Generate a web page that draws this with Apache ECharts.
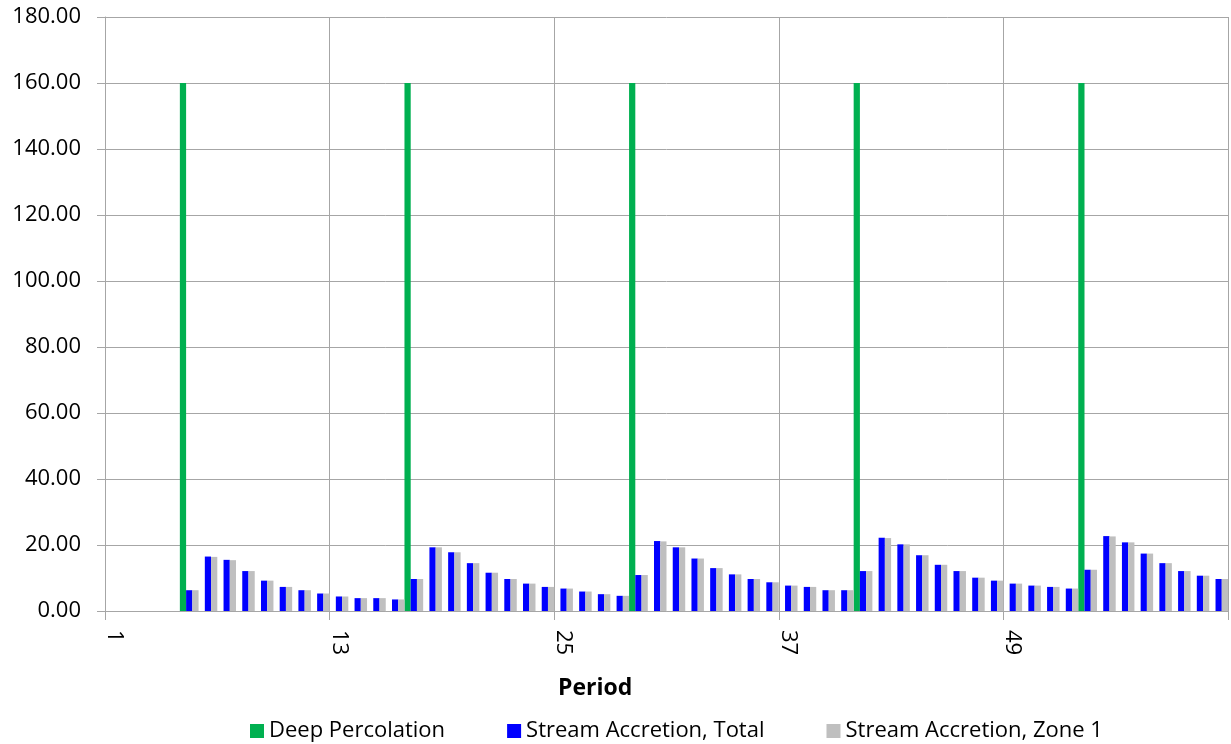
<!DOCTYPE html>
<html>
<head>
<meta charset="utf-8">
<script src="https://cdn.jsdelivr.net/npm/echarts@6/dist/echarts.min.js"></script>
<style>
html,body{margin:0;padding:0;background:#fff;}
#chart{width:1231px;height:744px;}
</style>
</head>
<body>
<div id="chart"></div>
<script>
const periods = ['1','2','3','4','5','6','7','8','9','10','11','12','13','14','15','16','17','18','19','20',
  '21','22','23','24','25','26','27','28','29','30','31','32','33','34','35','36','37','38','39','40',
  '41','42','43','44','45','46','47','48','49','50','51','52','53','54','55','56','57','58','59','60'];

const deepPercolation = [0,0,0,0,160,0,0,0,0,0,0,0,0,0,0,0,160,0,0,0,
  0,0,0,0,0,0,0,0,160,0,0,0,0,0,0,0,0,0,0,0,
  160,0,0,0,0,0,0,0,0,0,0,0,160,0,0,0,0,0,0,0];

const streamTotal = [0,0,0,0,6.3,16.5,15.5,12.1,9.2,7.3,6.3,5.3,4.4,3.9,3.9,3.5,9.7,19.3,17.8,14.5,
  11.6,9.7,8.3,7.3,6.8,5.9,5.1,4.6,10.9,21.2,19.3,15.9,13.0,11.1,9.7,8.7,7.7,7.3,6.3,6.3,
  12.1,22.2,20.2,16.9,14.0,12.1,10.1,9.2,8.3,7.7,7.3,6.8,12.5,22.7,20.8,17.4,14.5,12.1,10.7,9.7];

const streamZone1 = [0,0,0,0,6.3,16.4,15.4,12.1,9.2,7.3,6.3,5.3,4.4,3.9,3.9,3.5,9.7,19.3,17.8,14.5,
  11.6,9.7,8.3,7.3,6.8,5.9,5.1,4.6,10.9,21.1,19.3,15.9,13.0,11.1,9.7,8.7,7.7,7.3,6.3,6.3,
  12.1,22.1,20.2,16.9,14.0,12.1,10.1,9.2,8.3,7.7,7.3,6.8,12.5,22.6,20.8,17.4,14.5,12.1,10.7,9.7];

const seriesNames = ['Deep Percolation','Stream Accretion, Total','Stream Accretion, Zone 1'];
const seriesColors = ['#00B050','#0000FF','#BFBFBF'];
const axisTitle = 'Period';

const gridColor = '#A6A6A6';
const font = '"Open Sans", "Noto Sans", sans-serif';

const chart = echarts.init(document.getElementById('chart'), null, {renderer:'canvas'});
const option = {
  animation: false,
  backgroundColor: '#ffffff',
  grid: {left:105, right:3, top:17, bottom:133, containLabel:false},
  legend: {
    data: seriesNames,
    left: 245, top: 715,
    icon: 'rect', itemWidth: 14, itemHeight: 14, itemGap: 62,
    textStyle: {fontFamily: font, fontSize: 22, color:'#000', padding:[0,0,0,0]}
  },
  graphic: [{
    type:'text', left: 558, top: 677,
    style:{text: axisTitle, fontFamily: font, fontSize: 23, fontWeight:'bold', fill:'#000'}
  }],
  xAxis: {
    type: 'category',
    data: periods,
    boundaryGap: true,
    axisLine: {show:true, lineStyle:{color:gridColor, width:1}},
    axisTick: {show:true, interval:11, length:9, lineStyle:{color:gridColor}},
    axisLabel: {interval:11, rotate:-90, margin:19, fontFamily: font, fontSize:22, color:'#000'},
    splitLine: {show:true, interval:11, lineStyle:{color:gridColor, width:1}}
  },
  yAxis: {
    type: 'value', min:0, max:180, interval:20,
    axisLine: {show:true, lineStyle:{color:gridColor}},
    axisTick: {show:true, length:8, lineStyle:{color:gridColor}},
    axisLabel: {margin:24, fontFamily: font, fontSize:22, color:'#000', formatter: v => v.toFixed(2)},
    splitLine: {show:true, lineStyle:{color:gridColor, width:1}}
  },
  series: [
    {name: seriesNames[0], type:'bar', data: deepPercolation, itemStyle:{color:seriesColors[0]}, barGap:'0%', barCategoryGap:'0%'},
    {name: seriesNames[1], type:'bar', data: streamTotal, itemStyle:{color:seriesColors[1]}, barGap:'0%', barCategoryGap:'0%'},
    {name: seriesNames[2], type:'bar', data: streamZone1, itemStyle:{color:seriesColors[2]}, barGap:'0%', barCategoryGap:'0%'}
  ]
};
chart.setOption(option);
</script>
</body>
</html>
